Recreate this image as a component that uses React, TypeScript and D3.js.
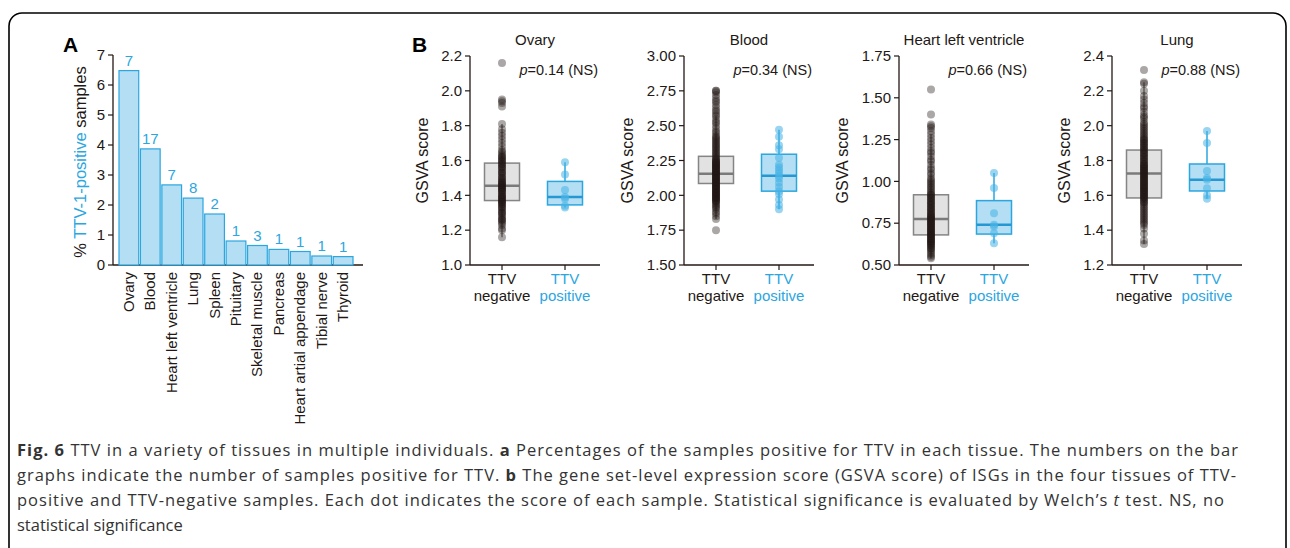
import React from 'react';
import * as d3 from 'd3';

// Panel A: percentage of TTV-1-positive samples per tissue
const tissues = [
  'Ovary', 'Blood', 'Heart left ventricle', 'Lung', 'Spleen', 'Pituitary',
  'Skeletal muscle', 'Pancreas', 'Heart artial appendage', 'Tibial nerve', 'Thyroid',
];
const pctPositive = [6.48, 3.87, 2.67, 2.23, 1.7, 0.8, 0.65, 0.52, 0.45, 0.3, 0.28];
const nPositive = [7, 17, 7, 8, 2, 1, 3, 1, 1, 1, 1];
const pctTicks = [0, 1, 2, 3, 4, 5, 6, 7];

// Panel B: GSVA scores
const gsvaTissues = ['Ovary', 'Blood', 'Heart left ventricle', 'Lung'];
const pValues = ['0.14', '0.34', '0.66', '0.88'];
const groups = ['negative', 'positive'];
const yDomains = [[1.0, 2.2], [1.5, 3.0], [0.5, 1.75], [1.2, 2.4]];
const yTicks = [
  [1.0, 1.2, 1.4, 1.6, 1.8, 2.0, 2.2],
  [1.5, 1.75, 2.0, 2.25, 2.5, 2.75, 3.0],
  [0.5, 0.75, 1.0, 1.25, 1.5, 1.75],
  [1.2, 1.4, 1.6, 1.8, 2.0, 2.2, 2.4],
];
const tickDigits = [1, 2, 2, 1];
// [q1, median, q3]
const negBox = [[1.37, 1.455, 1.585], [2.085, 2.155, 2.28], [0.68, 0.775, 0.92], [1.585, 1.725, 1.86]];
const posBox = [[1.345, 1.39, 1.48], [2.03, 2.14, 2.295], [0.685, 0.74, 0.885], [1.625, 1.69, 1.78]];

const ovaryNeg = [2.16, 1.95, 1.94, 1.93, 1.91, 1.81, 1.78, 1.76, 1.74, 1.72, 1.70, 1.68, 1.66, 1.65, 1.64, 1.63, 1.62, 1.62, 1.61, 1.60, 1.60, 1.59, 1.58, 1.58, 1.57, 1.56, 1.56, 1.55, 1.54, 1.53, 1.53, 1.52, 1.51, 1.50, 1.50, 1.49, 1.48, 1.48, 1.47, 1.47, 1.46, 1.46, 1.45, 1.45, 1.44, 1.44, 1.43, 1.43, 1.42, 1.42, 1.41, 1.40, 1.40, 1.39, 1.39, 1.38, 1.38, 1.37, 1.37, 1.36, 1.36, 1.35, 1.35, 1.34, 1.33, 1.33, 1.32, 1.31, 1.30, 1.30, 1.29, 1.28, 1.27, 1.26, 1.26, 1.25, 1.24, 1.23, 1.21, 1.20, 1.16];
const ovaryPos = [1.59, 1.52, 1.43, 1.39, 1.38, 1.34, 1.33];

const bloodNeg = [1.75, 1.83, 1.85, 1.87, 1.88, 1.90, 1.91, 1.92, 1.93, 1.94, 1.95, 1.96, 1.96, 1.97, 1.97, 1.98, 1.98, 1.99, 1.99, 2.00, 2.00, 2.01, 2.01, 2.02, 2.02, 2.03, 2.03, 2.04, 2.04, 2.05, 2.05, 2.06, 2.06, 2.07, 2.07, 2.08, 2.08, 2.09, 2.09, 2.10, 2.10, 2.11, 2.11, 2.12, 2.12, 2.13, 2.13, 2.14, 2.14, 2.15, 2.15, 2.16, 2.16, 2.17, 2.17, 2.18, 2.18, 2.19, 2.19, 2.20, 2.20, 2.21, 2.21, 2.22, 2.22, 2.23, 2.23, 2.24, 2.24, 2.25, 2.25, 2.26, 2.27, 2.28, 2.29, 2.30, 2.31, 2.32, 2.33, 2.34, 2.35, 2.36, 2.37, 2.38, 2.39, 2.40, 2.41, 2.42, 2.43, 2.45, 2.46, 2.48, 2.50, 2.52, 2.53, 2.55, 2.57, 2.58, 2.60, 2.61, 2.63, 2.65, 2.67, 2.68, 2.70, 2.72, 2.74, 2.75, 2.75];
const bloodPos = [2.47, 2.42, 2.36, 2.33, 2.27, 2.22, 2.20, 2.18, 2.16, 2.14, 2.12, 2.09, 2.06, 2.03, 2.01, 1.97, 1.93, 1.90];

const heartNeg = [1.55, 1.40, 1.34, 1.33, 1.32, 1.30, 1.28, 1.26, 1.24, 1.22, 1.20, 1.18, 1.17, 1.15, 1.13, 1.12, 1.10, 1.08, 1.07, 1.05, 1.04, 1.02, 1.01, 1.00, 0.99, 0.98, 0.97, 0.96, 0.95, 0.94, 0.93, 0.92, 0.92, 0.91, 0.90, 0.90, 0.89, 0.88, 0.88, 0.87, 0.86, 0.86, 0.85, 0.84, 0.84, 0.83, 0.82, 0.82, 0.81, 0.80, 0.80, 0.79, 0.79, 0.78, 0.78, 0.77, 0.77, 0.76, 0.76, 0.75, 0.75, 0.74, 0.74, 0.73, 0.73, 0.72, 0.72, 0.71, 0.71, 0.70, 0.70, 0.69, 0.69, 0.68, 0.68, 0.67, 0.67, 0.66, 0.66, 0.65, 0.65, 0.64, 0.64, 0.63, 0.63, 0.62, 0.62, 0.61, 0.60, 0.60, 0.59, 0.58, 0.57, 0.56, 0.55, 0.54];
const heartPos = [1.05, 0.96, 0.81, 0.74, 0.73, 0.69, 0.63];

const lungNeg = [2.32, 2.25, 2.24, 2.20, 2.17, 2.15, 2.13, 2.11, 2.10, 2.08, 2.06, 2.05, 2.04, 2.02, 2.01, 2.00, 1.99, 1.98, 1.97, 1.96, 1.95, 1.94, 1.93, 1.92, 1.92, 1.91, 1.90, 1.90, 1.89, 1.88, 1.88, 1.87, 1.86, 1.86, 1.85, 1.84, 1.84, 1.83, 1.82, 1.82, 1.81, 1.80, 1.80, 1.79, 1.78, 1.78, 1.77, 1.77, 1.76, 1.76, 1.75, 1.75, 1.74, 1.74, 1.73, 1.73, 1.72, 1.72, 1.71, 1.71, 1.70, 1.70, 1.69, 1.69, 1.68, 1.68, 1.67, 1.67, 1.66, 1.66, 1.65, 1.65, 1.64, 1.64, 1.63, 1.63, 1.62, 1.62, 1.61, 1.61, 1.60, 1.60, 1.59, 1.59, 1.58, 1.58, 1.57, 1.56, 1.56, 1.55, 1.54, 1.53, 1.52, 1.51, 1.50, 1.49, 1.48, 1.47, 1.46, 1.45, 1.44, 1.43, 1.41, 1.38, 1.34, 1.32];
const lungPos = [1.97, 1.90, 1.74, 1.70, 1.69, 1.64, 1.60, 1.58];

const negScores = [ovaryNeg, bloodNeg, heartNeg, lungNeg];
const posScores = [ovaryPos, bloodPos, heartPos, lungPos];

const captionLines = [
  [['Fig. 6', 'b'], [' TTV in a variety of tissues in multiple individuals. ', ''], ['a', 'b'], [' Percentages of the samples positive for TTV in each tissue. The numbers on the bar', '']],
  [['graphs indicate the number of samples positive for TTV. ', ''], ['b', 'b'], [' The gene set-level expression score (GSVA score) of ISGs in the four tissues of TTV-', '']],
  [['positive and TTV-negative samples. Each dot indicates the score of each sample. Statistical significance is evaluated by Welch\u2019s ', ''], ['t', 'i'], [' test. NS, no', '']],
  [['statistical significance', '']],
];

const W = 1290;
const H = 548;
const FONT = '"Liberation Sans", Arial, Helvetica, sans-serif';
const INK = '#231815';
const BLUE = '#2ba6df';
const BLUE_FILL = '#b4def3';
const panelX = [470, 684, 899, 1112];
const plotTop = 56;
const plotBottom = 265;

const whiskers = (vals: number[], box: number[]) => {
  const iqr = box[2] - box[0];
  const lo = d3.min(vals.filter(v => v >= box[0] - 1.5 * iqr)) as number;
  const hi = d3.max(vals.filter(v => v <= box[2] + 1.5 * iqr)) as number;
  return [lo, hi];
};

const PanelA: React.FC = () => {
  const y = d3.scaleLinear().domain([0, 7]).range([plotBottom, 55]);
  const x = d3.scaleBand<string>().domain(tissues).range([119, 353]).paddingInner(0.08);
  const axisX = 113;
  return (
    <g fontFamily={FONT}>
      <text x={63} y={52} fontSize={21} fontWeight="bold" fill="#000">A</text>
      <line x1={axisX} x2={axisX} y1={y(7)} y2={y(0)} stroke={INK} strokeWidth={1.3} />
      <line x1={axisX} x2={363} y1={y(0)} y2={y(0)} stroke={INK} strokeWidth={1.3} />
      {pctTicks.map(t => (
        <g key={t}>
          <line x1={axisX - 5} x2={axisX} y1={y(t)} y2={y(t)} stroke={INK} strokeWidth={1.2} />
          <text x={axisX - 8} y={y(t)} dy="0.35em" textAnchor="end" fontSize={15} fill={INK}>{t}</text>
        </g>
      ))}
      <text transform={`translate(86,${(y(0) + y(7)) / 2 + 2}) rotate(-90)`} textAnchor="middle" fontSize={16.5} fill={INK}>
        <tspan>% </tspan><tspan fill={BLUE}>TTV-1-positive</tspan><tspan> samples</tspan>
      </text>
      {tissues.map((t, i) => {
        const bx = x(t) as number;
        const cx = bx + x.bandwidth() / 2;
        return (
          <g key={t}>
            <rect x={bx} y={y(pctPositive[i])} width={x.bandwidth()} height={y(0) - y(pctPositive[i])}
              fill={BLUE_FILL} stroke={BLUE} strokeWidth={1.2} />
            <text x={cx} y={y(pctPositive[i]) - 5} textAnchor="middle" fontSize={15} fill={BLUE}>{nPositive[i]}</text>
            <text transform={`translate(${cx + 5},${y(0) + 7}) rotate(-90)`} textAnchor="end" fontSize={15} fill={INK}>{t}</text>
          </g>
        );
      })}
    </g>
  );
};

const GsvaPanel: React.FC<{ i: number }> = ({ i }) => {
  const ax = panelX[i];
  const y = d3.scaleLinear().domain(yDomains[i]).range([plotBottom, plotTop]);
  const x = d3.scalePoint<string>().domain(groups).range([ax + 32, ax + 95]);
  const fmt = d3.format(`.${tickDigits[i]}f`);
  const boxW = 35;
  const labelOffset = tickDigits[i] === 1 ? 42 : 51;
  const sets = [
    { g: 'negative', vals: negScores[i], box: negBox[i], stroke: '#858585', fill: '#e2e2e2', med: '#7a7a7a', dot: INK, op: 0.38 },
    { g: 'positive', vals: posScores[i], box: posBox[i], stroke: BLUE, fill: BLUE_FILL, med: '#2597d2', dot: '#45b2e6', op: 0.55 },
  ];
  return (
    <g fontFamily={FONT}>
      <text x={ax + 65} y={45} textAnchor="middle" fontSize={15} fill={INK}>{gsvaTissues[i]}</text>
      <text x={ax + 128} y={75} textAnchor="end" fontSize={14.5} fill={INK}>
        <tspan fontStyle="italic">p</tspan><tspan>={pValues[i]} (NS)</tspan>
      </text>
      <line x1={ax} x2={ax} y1={plotTop} y2={plotBottom} stroke={INK} strokeWidth={1.3} />
      <line x1={ax} x2={ax + 130} y1={plotBottom} y2={plotBottom} stroke={INK} strokeWidth={1.3} />
      {yTicks[i].map(t => (
        <g key={t}>
          <line x1={ax - 5} x2={ax} y1={y(t)} y2={y(t)} stroke={INK} strokeWidth={1.2} />
          <text x={ax - 8} y={y(t)} dy="0.35em" textAnchor="end" fontSize={15} fill={INK}>{fmt(t)}</text>
        </g>
      ))}
      <text transform={`translate(${ax - labelOffset},${(plotTop + plotBottom) / 2}) rotate(-90)`} textAnchor="middle" fontSize={16} fill={INK}>GSVA score</text>
      {sets.map(s => {
        const cx = x(s.g) as number;
        const [lo, hi] = whiskers(s.vals, s.box);
        return (
          <g key={s.g}>
            <line x1={cx} x2={cx} y1={y(hi)} y2={y(s.box[2])} stroke={s.stroke} strokeWidth={1.5} />
            <line x1={cx} x2={cx} y1={y(s.box[0])} y2={y(lo)} stroke={s.stroke} strokeWidth={1.5} />
            <rect x={cx - boxW / 2} y={y(s.box[2])} width={boxW} height={y(s.box[0]) - y(s.box[2])}
              fill={s.fill} stroke={s.stroke} strokeWidth={1.5} />
            <line x1={cx - boxW / 2} x2={cx + boxW / 2} y1={y(s.box[1])} y2={y(s.box[1])} stroke={s.med} strokeWidth={2.5} />
            {s.vals.map((v, k) => (
              <circle key={k} cx={cx} cy={y(v)} r={4} fill={s.dot} fillOpacity={s.op} />
            ))}
            <line x1={cx} x2={cx} y1={plotBottom} y2={plotBottom + 5} stroke={INK} strokeWidth={1.2} />
            <text x={cx} y={284} textAnchor="middle" fontSize={15} fill={s.g === 'positive' ? BLUE : INK}>TTV</text>
            <text x={cx} y={301} textAnchor="middle" fontSize={15} fill={s.g === 'positive' ? BLUE : INK}>{s.g}</text>
          </g>
        );
      })}
    </g>
  );
};

const App: React.FC = () => (
  <svg width={W} height={H} viewBox={`0 0 ${W} ${H}`} style={{ position: 'absolute', left: 0, top: 0, background: '#fff' }}>
    <rect x={9} y={13} width={1277} height={580} rx={13} fill="none" stroke="#000" strokeWidth={1.6} />
    <PanelA />
    <text x={412} y={52} fontFamily={FONT} fontSize={21} fontWeight="bold" fill="#000">B</text>
    {gsvaTissues.map((_, i) => <GsvaPanel key={i} i={i} />)}
    <g fontFamily='"Open Sans", "Noto Sans", sans-serif' fontSize={16.5} fill="#333">
      {captionLines.map((line, li) => (
        <text key={li} x={17} y={456 + li * 25}
          textLength={li < 3 ? [1221, 1219, 1207][li] : undefined}
          lengthAdjust={li < 3 ? 'spacing' : undefined}>
          {line.map(([s, st], k) => (
            <tspan key={k} fontWeight={st === 'b' ? 'bold' : undefined} fontStyle={st === 'i' ? 'italic' : undefined}>{s}</tspan>
          ))}
        </text>
      ))}
    </g>
  </svg>
);

export default App;
